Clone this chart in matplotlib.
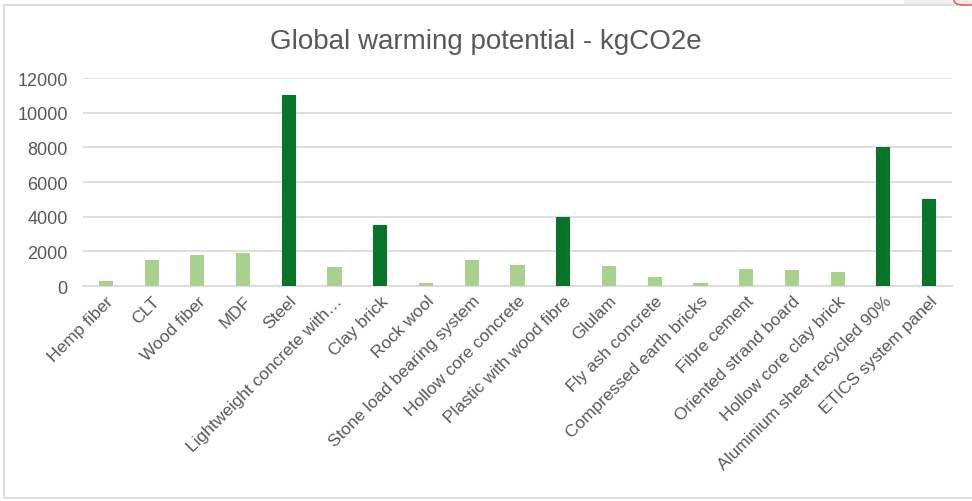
import matplotlib.pyplot as plt
from matplotlib.patches import Rectangle, FancyBboxPatch

plt.rcParams['font.family'] = ['Liberation Sans', 'DejaVu Sans']

materials = [
    'Hemp fiber', 'CLT', 'Wood fiber', 'MDF', 'Steel',
    'Lightweight concrete with\u2026', 'Clay brick', 'Rock wool',
    'Stone load bearing system', 'Hollow core concrete',
    'Plastic with wood fibre', 'Glulam', 'Fly ash concrete',
    'Compressed earth bricks', 'Fibre cement', 'Oriented strand board',
    'Hollow core clay brick', 'Aluminium sheet recycled 90%',
    'ETICS system panel',
]
gwp = [300, 1500, 1800, 1900, 11000, 1100, 3500, 150, 1500, 1200,
       4000, 1150, 500, 200, 1000, 900, 800, 8000, 5000]
high_impact = [False, False, False, False, True, False, True, False, False,
               False, True, False, False, False, False, False, False,
               True, True]

light_green = '#A9D18E'
dark_green = '#067527'
text_grey = '#595959'
grid_grey = '#D9D9D9'

fig = plt.figure(figsize=(9.72, 5.02), dpi=100)

# chart frame (runs off the right edge) and bits of UI at the top right
fig.patches.append(Rectangle((4 / 972, 1 - 499 / 502), 980 / 972, 493 / 502,
                             transform=fig.transFigure, fill=False,
                             edgecolor=grid_grey, linewidth=1.2))
fig.patches.append(Rectangle((904 / 972, 1 - 5 / 502), 68 / 972, 5 / 502,
                             transform=fig.transFigure, facecolor='#F0F0F0',
                             edgecolor='none'))
fig.patches.append(FancyBboxPatch((954 / 972, 1 - 6 / 502), 40 / 972, 20 / 502,
                                  boxstyle='round,pad=0,rounding_size=0.01',
                                  transform=fig.transFigure, facecolor='#FBEAEA',
                                  edgecolor='#D9534F', linewidth=1))

ax = fig.add_axes([83 / 972, 1 - 287 / 502, 869 / 972, 208 / 502])
colors = [dark_green if h else light_green for h in high_impact]
x = range(len(materials))
ax.bar(x, gwp, width=0.31, color=colors, zorder=3)

ax.set_xlim(-0.5, len(materials) - 0.5)
ax.set_ylim(0, 12000)
ax.set_yticks(range(0, 12001, 2000))
ax.yaxis.grid(True, color=grid_grey, linewidth=1.2, zorder=0)
ax.set_axisbelow(True)
for side in ['top', 'right', 'left']:
    ax.spines[side].set_visible(False)
ax.spines['bottom'].set_color(grid_grey)
ax.spines['bottom'].set_linewidth(1.2)
ax.tick_params(axis='y', length=0, colors=text_grey, labelsize=13, pad=11)
ax.tick_params(axis='x', length=0, colors=text_grey, labelsize=12.5, pad=5)
ax.set_xticks(list(x))
ax.set_xticklabels(materials, rotation=45, ha='right', rotation_mode='anchor')

fig.text(0.5, 1 - 42 / 502, 'Global warming potential - kgCO2e',
         ha='center', va='center', fontsize=20, color=text_grey)

fig.savefig('out.png', dpi=100)
